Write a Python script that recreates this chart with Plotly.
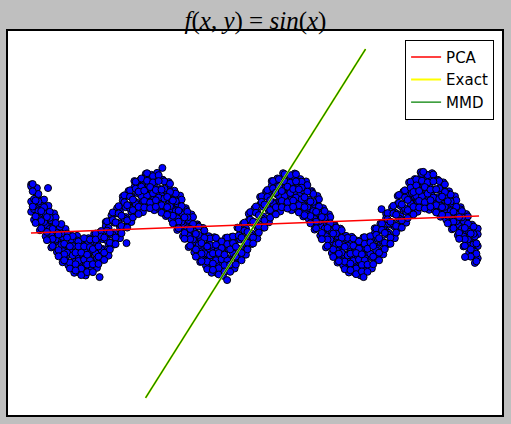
"""Noisy sine cloud with PCA / exact / MMD projection directions."""

import plotly.graph_objects as go

# column positions of the sample cloud (four staggered column sets)
band_x = [
    -3.93, -3.67, -3.40, -3.14, -2.88, -2.62, -2.36, -2.09, -1.83, -1.57, -1.31, -1.05, -0.79, -0.52, -0.26,
    0.00, 0.26, 0.52, 0.79, 1.05, 1.31, 1.57, 1.83, 2.09, 2.36, 2.62, 2.88, 3.14, 3.40, 3.67, 3.93, 4.19,
    4.45, 4.71, 4.97, 5.24, 5.50, 5.76, 6.02,
    6.28, 6.54, 6.81, 7.07, 7.33, 7.59, 7.85, 8.12, 8.38, 8.64, 8.90, 9.16, 9.42, 9.69, 9.95, 10.21,
    10.47, 10.73, 11.00, 11.26, 11.52, 11.78, 12.04, 12.30,
    12.57, 12.83, 13.09, 13.35, 13.61, 13.88, 14.14, 14.40, 14.66, 14.92, 15.18, 15.45, 15.71, 15.97,
    16.23, 16.49,
]
band_x2 = [
    -3.80, -3.53, -3.27, -3.01, -2.75, -2.49, -2.23, -1.96, -1.70, -1.44, -1.18, -0.92, -0.65, -0.39, -0.13,
    0.13, 0.39, 0.65, 0.92, 1.18, 1.44, 1.70, 1.96, 2.23, 2.49, 2.75, 3.01, 3.27, 3.53, 3.80, 4.06, 4.32,
    4.58, 4.84, 5.11, 5.37, 5.63, 5.89, 6.15,
    6.41, 6.68, 6.94, 7.20, 7.46, 7.72, 7.98, 8.25, 8.51, 8.77, 9.03, 9.29, 9.55, 9.82, 10.08, 10.34,
    10.60, 10.86, 11.13, 11.39, 11.65, 11.91, 12.17, 12.43,
    12.70, 12.96, 13.22, 13.48, 13.74, 14.01, 14.27, 14.53, 14.79, 15.05, 15.31, 15.58, 15.84, 16.10,
    16.36,
]
band_x3 = [
    -3.86, -3.60, -3.34, -3.08, -2.81, -2.55, -2.29, -2.03, -1.77, -1.51, -1.24, -0.98, -0.72, -0.46, -0.20,
    0.07, 0.33, 0.59, 0.85, 1.11, 1.37, 1.64, 1.90, 2.16, 2.42, 2.68, 2.95, 3.21, 3.47, 3.73, 3.99, 4.25,
    4.52, 4.78, 5.04, 5.30, 5.56, 5.82, 6.09,
    6.35, 6.61, 6.87, 7.13, 7.40, 7.66, 7.92, 8.18, 8.44, 8.70, 8.97, 9.23, 9.49, 9.75, 10.01, 10.27,
    10.54, 10.80, 11.06, 11.32, 11.58, 11.85, 12.11, 12.37,
    12.63, 12.89, 13.16, 13.42, 13.68, 13.94, 14.20, 14.46, 14.73, 14.99, 15.25, 15.51, 15.77, 16.04,
    16.30,
]
band_x4 = [
    -3.73, -3.47, -3.21, -2.95, -2.68, -2.42, -2.16, -1.90, -1.64, -1.37, -1.11, -0.85, -0.59, -0.33, -0.07,
    0.20, 0.46, 0.72, 0.98, 1.24, 1.51, 1.77, 2.03, 2.29, 2.55, 2.81, 3.08, 3.34, 3.60, 3.86, 4.12, 4.38,
    4.65, 4.91, 5.17, 5.43, 5.69, 5.96, 6.22,
    6.48, 6.74, 7.00, 7.26, 7.53, 7.79, 8.05, 8.31, 8.57, 8.84, 9.10, 9.36, 9.62, 9.88, 10.14, 10.41,
    10.67, 10.93, 11.19, 11.45, 11.71, 11.98, 12.24, 12.50,
    12.76, 13.02, 13.29, 13.55, 13.81, 14.07, 14.33, 14.59, 14.86, 15.12, 15.38, 15.64, 15.90, 16.17,
    16.43,
]

y_edge_top = [
    1.20, 1.09, 0.71, 0.55, 0.32, -0.03, -0.15, -0.36, -0.36, -0.52, -0.43, -0.30, -0.25, 0.06, 0.26,
    0.48, 0.83, 1.00, 1.30, 1.33, 1.52, 1.49, 1.55, 1.34, 1.27, 1.01, 0.86, 0.48, 0.29, -0.01, -0.12,
    -0.37, -0.40, -0.53, -0.42, -0.39, -0.11, 0.01, 0.31,
    0.47, 0.82, 0.98, 1.30, 1.38, 1.54, 1.46, 1.53, 1.36, 1.29, 1.00, 0.85, 0.48, 0.29, -0.03, -0.14,
    -0.36, -0.39, -0.51, -0.41, -0.40, -0.13, 0.01, 0.31,
    0.50, 0.85, 0.98, 1.26, 1.36, 1.57, 1.50, 1.54, 1.34, 1.26, 0.99, 0.84, 0.51, 0.30, -0.02, -0.14,
]
y_top = [
    1.14, 0.84, 0.72, 0.36, 0.05, -0.09, -0.33, -0.54, -0.50, -0.65, -0.55, -0.57, -0.31, -0.06, 0.11,
    0.32, 0.71, 0.86, 1.12, 1.16, 1.40, 1.39, 1.31, 1.33, 1.06, 0.90, 0.58, 0.42, 0.12, -0.05, -0.38,
    -0.46, -0.67, -0.56, -0.61, -0.48, -0.40, -0.03, 0.11,
    0.42, 0.59, 0.90, 1.16, 1.22, 1.35, 1.30, 1.40, 1.28, 1.03, 0.96, 0.62, 0.39, 0.08, -0.06, -0.42,
    -0.46, -0.57, -0.67, -0.52, -0.50, -0.29, -0.19, 0.17,
    0.38, 0.61, 0.96, 1.03, 1.27, 1.40, 1.34, 1.36, 1.32, 1.01, 0.91, 0.62, 0.44, 0.07, -0.08, -0.31,
]
y_mid = [
    0.68, 0.55, 0.22, 0.06, -0.28, -0.46, -0.77, -0.84, -1.02, -0.93, -1.00, -0.85, -0.78, -0.45, -0.28,
    0.04, 0.21, 0.56, 0.69, 0.90, 0.91, 1.04, 0.94, 0.92, 0.67, 0.52, 0.20, 0.03, -0.31, -0.44, -0.73,
    -0.83, -1.02, -0.97, -1.01, -0.81, -0.74, -0.48, -0.31,
    0.05, 0.23, 0.54, 0.65, 0.89, 0.93, 1.05, 0.95, 0.90, 0.66, 0.56, 0.23, -0.04, -0.21, -0.53, -0.67,
    -0.93, -0.95, -1.04, -0.92, -0.89, -0.68, -0.55, -0.20,
    -0.03, 0.30, 0.45, 0.74, 0.83, 1.02, 0.97, 0.99, 0.81, 0.75, 0.48, 0.31, -0.04, -0.23, -0.55, -0.67,
]
y_bottom = [
    0.37, 0.06, -0.10, -0.46, -0.59, -0.91, -1.02, -1.29, -1.34, -1.44, -1.32, -1.33, -1.04, -0.90, -0.57,
    -0.43, -0.09, 0.05, 0.39, 0.47, 0.63, 0.56, 0.61, 0.44, 0.41, 0.09, -0.11, -0.44, -0.60, -0.90, -1.03,
    -1.32, -1.32, -1.42, -1.30, -1.28, -1.07, -0.94, -0.56,
    -0.40, -0.07, 0.08, 0.34, 0.42, 0.65, 0.59, 0.61, 0.43, 0.37, 0.11, -0.05, -0.43, -0.61, -0.96, -1.05,
    -1.27, -1.29, -1.43, -1.34, -1.31, -1.02, -0.91, -0.62,
    -0.45, -0.07, 0.10, 0.36, 0.44, 0.65, 0.58, 0.61, 0.46, 0.38, 0.06, -0.08, -0.41, -0.58, -0.90, -1.04,
]
# band_x2 columns
y_upper = [
    0.76, 0.63, 0.30, 0.11, -0.26, -0.39, -0.65, -0.65, -0.83, -0.76, -0.79, -0.58, -0.46, -0.12, 0.04,
    0.37, 0.51, 0.83, 0.94, 1.17, 1.16, 1.22, 1.06, 1.01, 0.73, 0.62, 0.29, 0.12, -0.23, -0.40, -0.66,
    -0.69, -0.83, -0.73, -0.77, -0.57, -0.47, -0.13, 0.04,
    0.36, 0.52, 0.87, 0.95, 1.13, 1.12, 1.23, 1.09, 1.02, 0.74, 0.60, 0.28, 0.13, -0.22, -0.37, -0.64,
    -0.71, -0.86, -0.76, -0.75, -0.54, -0.45, -0.15, 0.01,
    0.35, 0.55, 0.86, 0.94, 1.16, 1.15, 1.20, 1.05, 1.02, 0.78, 0.62, 0.28, 0.09, -0.24, -0.38,
]
y_lower = [
    0.45, 0.14, -0.02, -0.35, -0.51, -0.82, -0.93, -1.15, -1.15, -1.24, -1.09, -1.03, -0.76, -0.60, -0.26,
    -0.10, 0.21, 0.37, 0.64, 0.70, 0.86, 0.78, 0.76, 0.54, 0.46, 0.17, -0.01, -0.36, -0.54, -0.85, -0.92,
    -1.14, -1.16, -1.23, -1.07, -1.00, -0.75, -0.61, -0.29,
    -0.11, 0.23, 0.40, 0.65, 0.69, 0.83, 0.74, 0.75, 0.57, 0.48, 0.15, -0.04, -0.37, -0.53, -0.82, -0.93,
    -1.15, -1.15, -1.23, -1.05, -1.01, -0.76, -0.59, -0.27,
    -0.09, 0.23, 0.37, 0.62, 0.69, 0.85, 0.78, 0.76, 0.55, 0.44, 0.16, -0.02, -0.38, -0.54, -0.84,
]
y_edge_bot2 = [
    0.13, -0.19, -0.37, -0.71, -0.85, -1.16, -1.25, -1.48, -1.48, -1.56, -1.40, -1.33, -1.08, -0.96, -0.62,
    -0.43, -0.08, 0.06, 0.32, 0.36, 0.49, 0.42, 0.44, 0.24, 0.14, -0.18, -0.37, -0.70, -0.86, -1.15, -1.26,
    -1.48, -1.49, -1.57, -1.41, -1.35, -1.07, -0.93, -0.61,
    -0.44, -0.11, 0.05, 0.33, 0.38, 0.51, 0.42, 0.42, 0.23, 0.14, -0.17, -0.35, -0.71, -0.88, -1.17, -1.26,
    -1.47, -1.47, -1.56, -1.42, -1.35, -1.07, -0.92, -0.60,
    -0.43, -0.11, 0.04, 0.31, 0.37, 0.52, 0.43, 0.42, 0.22, 0.13, -0.16, -0.34, -0.68, -0.86, -1.18,
]
# band_x3 columns
y_edge_top3 = [
    1.21, 0.91, 0.74, 0.37, 0.20, 0.00, -0.29, -0.37, -0.53, -0.43, -0.47, -0.29, -0.21, 0.08, 0.35,
    0.54, 0.87, 1.02, 1.28, 1.38, 1.54, 1.45, 1.48, 1.29, 1.22, 0.92, 0.74, 0.37, 0.21, -0.08, -0.20,
    -0.44, -0.42, -0.53, -0.41, -0.38, -0.13, 0.04, 0.36,
    0.53, 0.84, 1.03, 1.30, 1.36, 1.51, 1.48, 1.51, 1.28, 1.18, 0.91, 0.75, 0.39, 0.21, -0.11, -0.19,
    -0.42, -0.44, -0.53, -0.40, -0.37, -0.14, 0.01, 0.33,
    0.55, 0.88, 1.02, 1.28, 1.35, 1.52, 1.48, 1.50, 1.30, 1.20, 0.89, 0.72, 0.39, 0.23, -0.08,
]
y_hi = [
    0.99, 0.68, 0.51, 0.19, 0.03, -0.29, -0.41, -0.67, -0.68, -0.68, -0.70, -0.47, -0.38, -0.20, 0.12,
    0.32, 0.66, 0.83, 1.07, 1.13, 1.31, 1.26, 1.30, 1.07, 0.97, 0.69, 0.54, 0.20, 0.00, -0.33, -0.42,
    -0.64, -0.63, -0.73, -0.61, -0.58, -0.35, -0.20, 0.13,
    0.34, 0.67, 0.82, 1.08, 1.14, 1.29, 1.25, 1.29, 1.10, 0.98, 0.67, 0.53, 0.19, 0.02, -0.29, -0.42,
    -0.66, -0.66, -0.75, -0.60, -0.56, -0.33, -0.18, 0.14,
    0.32, 0.64, 0.80, 1.10, 1.17, 1.31, 1.26, 1.29, 1.08, 0.97, 0.68, 0.52, 0.20, 0.01, -0.30,
]
y_cen_lo = [
    0.53, 0.39, 0.06, -0.15, -0.47, -0.63, -0.87, -0.95, -1.12, -1.08, -1.10, -0.89, -0.78, -0.49, -0.33,
    0.01, 0.17, 0.48, 0.61, 0.85, 0.86, 0.93, 0.80, 0.77, 0.54, 0.39, 0.07, -0.13, -0.47, -0.64, -0.89,
    -0.95, -1.10, -1.07, -1.10, -0.89, -0.78, -0.49, -0.34,
    -0.01, 0.17, 0.50, 0.63, 0.85, 0.85, 0.94, 0.80, 0.75, 0.52, 0.39, 0.08, -0.14, -0.47, -0.62, -0.87,
    -0.95, -1.12, -1.08, -1.10, -0.90, -0.80, -0.49, -0.32,
    0.01, 0.17, 0.48, 0.62, 0.85, 0.84, 0.92, 0.80, 0.76, 0.52, 0.39, 0.08, -0.14, -0.47, -0.62,
]
# band_x4 columns
y_cen_hi = [
    0.71, 0.39, 0.21, -0.15, -0.32, -0.60, -0.68, -0.87, -0.87, -0.93, -0.76, -0.68, -0.41, -0.26, 0.05,
    0.25, 0.57, 0.74, 0.98, 1.01, 1.12, 1.03, 1.04, 0.82, 0.71, 0.40, 0.20, -0.15, -0.30, -0.58, -0.68,
    -0.89, -0.88, -0.93, -0.77, -0.69, -0.41, -0.24, 0.07,
    0.27, 0.59, 0.72, 0.95, 1.00, 1.13, 1.06, 1.05, 0.81, 0.68, 0.37, 0.21, -0.12, -0.29, -0.59, -0.69,
    -0.90, -0.88, -0.92, -0.75, -0.67, -0.43, -0.27, 0.07,
    0.28, 0.59, 0.73, 0.97, 1.00, 1.12, 1.04, 1.05, 0.83, 0.69, 0.37, 0.21, -0.12, -0.29, -0.59,
]
y_lo = [
    0.23, 0.09, -0.24, -0.45, -0.79, -0.92, -1.17, -1.22, -1.35, -1.23, -1.22, -0.99, -0.87, -0.57, -0.41,
    -0.06, 0.11, 0.42, 0.52, 0.70, 0.65, 0.72, 0.57, 0.51, 0.25, 0.07, -0.27, -0.46, -0.77, -0.90, -1.14,
    -1.20, -1.34, -1.25, -1.23, -0.99, -0.88, -0.57, -0.41,
    -0.07, 0.11, 0.42, 0.51, 0.70, 0.66, 0.71, 0.57, 0.51, 0.24, 0.07, -0.27, -0.47, -0.77, -0.90, -1.14,
    -1.20, -1.35, -1.24, -1.23, -0.99, -0.87, -0.57, -0.41,
    -0.06, 0.11, 0.42, 0.52, 0.70, 0.66, 0.72, 0.57, 0.51, 0.25, 0.07, -0.27, -0.46, -0.77, -0.90,
]
y_edge_bot4 = [
    0.03, -0.13, -0.49, -0.67, -0.98, -1.10, -1.35, -1.41, -1.55, -1.46, -1.46, -1.21, -1.09, -0.77, -0.61,
    -0.28, -0.11, 0.20, 0.30, 0.50, 0.48, 0.52, 0.34, 0.28, 0.02, -0.13, -0.45, -0.66, -0.99, -1.13, -1.37,
    -1.39, -1.53, -1.44, -1.45, -1.23, -1.10, -0.77, -0.59,
    -0.26, -0.11, 0.19, 0.29, 0.51, 0.47, 0.52, 0.35, 0.27, 0.02, -0.13, -0.46, -0.66, -1.00, -1.13, -1.37,
    -1.40, -1.52, -1.44, -1.45, -1.22, -1.10, -0.76, -0.60,
    -0.26, -0.11, 0.18, 0.29, 0.50, 0.47, 0.52, 0.35, 0.28, 0.02, -0.13, -0.45, -0.66, -0.99, -1.13,
]

# stray samples outside the main band
stray_x = [-3.16, 2.07, 0.43, -0.80, 5.03, 14.00, 12.09, 15.91, 11.27]
stray_y = [1.09, 1.70, -0.58, -1.61, -1.70, 1.58, 0.45, -1.00, -1.61]

# fitted directions (end points)
pca_x = [-3.94, 16.55]
pca_y = [-0.27, 0.24]
exact_x = [1.30, 11.36]
exact_y = [-5.27, 5.30]
mmd_x = [1.30, 11.36]
mmd_y = [-5.27, 5.30]

pts_x = (band_x * 4 + band_x2 * 3 + band_x3 * 3 + band_x4 * 3 + stray_x)
pts_y = (y_edge_top + y_top + y_mid + y_bottom
         + y_upper + y_lower + y_edge_bot2
         + y_edge_top3 + y_hi + y_cen_lo
         + y_cen_hi + y_lo + y_edge_bot4 + stray_y)

fig = go.Figure()
fig.add_trace(go.Scatter(
    x=pts_x, y=pts_y, mode="markers", showlegend=False,
    marker=dict(size=7, color="#0000ff", line=dict(color="black", width=1)),
))
fig.add_trace(go.Scatter(x=pca_x, y=pca_y, mode="lines", name="PCA",
                         line=dict(color="#ff0000", width=1.5)))
fig.add_trace(go.Scatter(x=exact_x, y=exact_y, mode="lines", name="Exact",
                         line=dict(color="#ffff00", width=2)))
fig.add_trace(go.Scatter(x=mmd_x, y=mmd_y, mode="lines", name="MMD",
                         line=dict(color="#008000", width=1.2)))

fig.update_layout(
    width=511, height=424,
    paper_bgcolor="#bfbfbf", plot_bgcolor="white",
    margin=dict(l=8, r=7, t=31, b=9),
    title=dict(text="<i>f</i>(<i>x</i>, <i>y</i>) = <i>sin</i>(<i>x</i>)",
               x=0.5, xanchor="center", y=0.953, yanchor="middle",
               font=dict(family="Liberation Serif", size=25, color="black")),
    font=dict(family="DejaVu Sans", color="black"),
    legend=dict(x=0.984, y=0.977, xanchor="right", yanchor="top",
                bgcolor="white", bordercolor="black", borderwidth=1,
                font=dict(size=15), itemwidth=30),
)
fig.update_xaxes(range=[-4.99, 17.6], showticklabels=False, ticks="", showgrid=False,
                 zeroline=False, showline=True, mirror=True, linecolor="black", linewidth=2)
fig.update_yaxes(range=[-5.79, 5.85], showticklabels=False, ticks="", showgrid=False,
                 zeroline=False, showline=True, mirror=True, linecolor="black", linewidth=2)

fig.write_html("out.html", config={"displayModeBar": False},
               post_script="document.body.style.margin='0';document.body.style.overflow='hidden';")
